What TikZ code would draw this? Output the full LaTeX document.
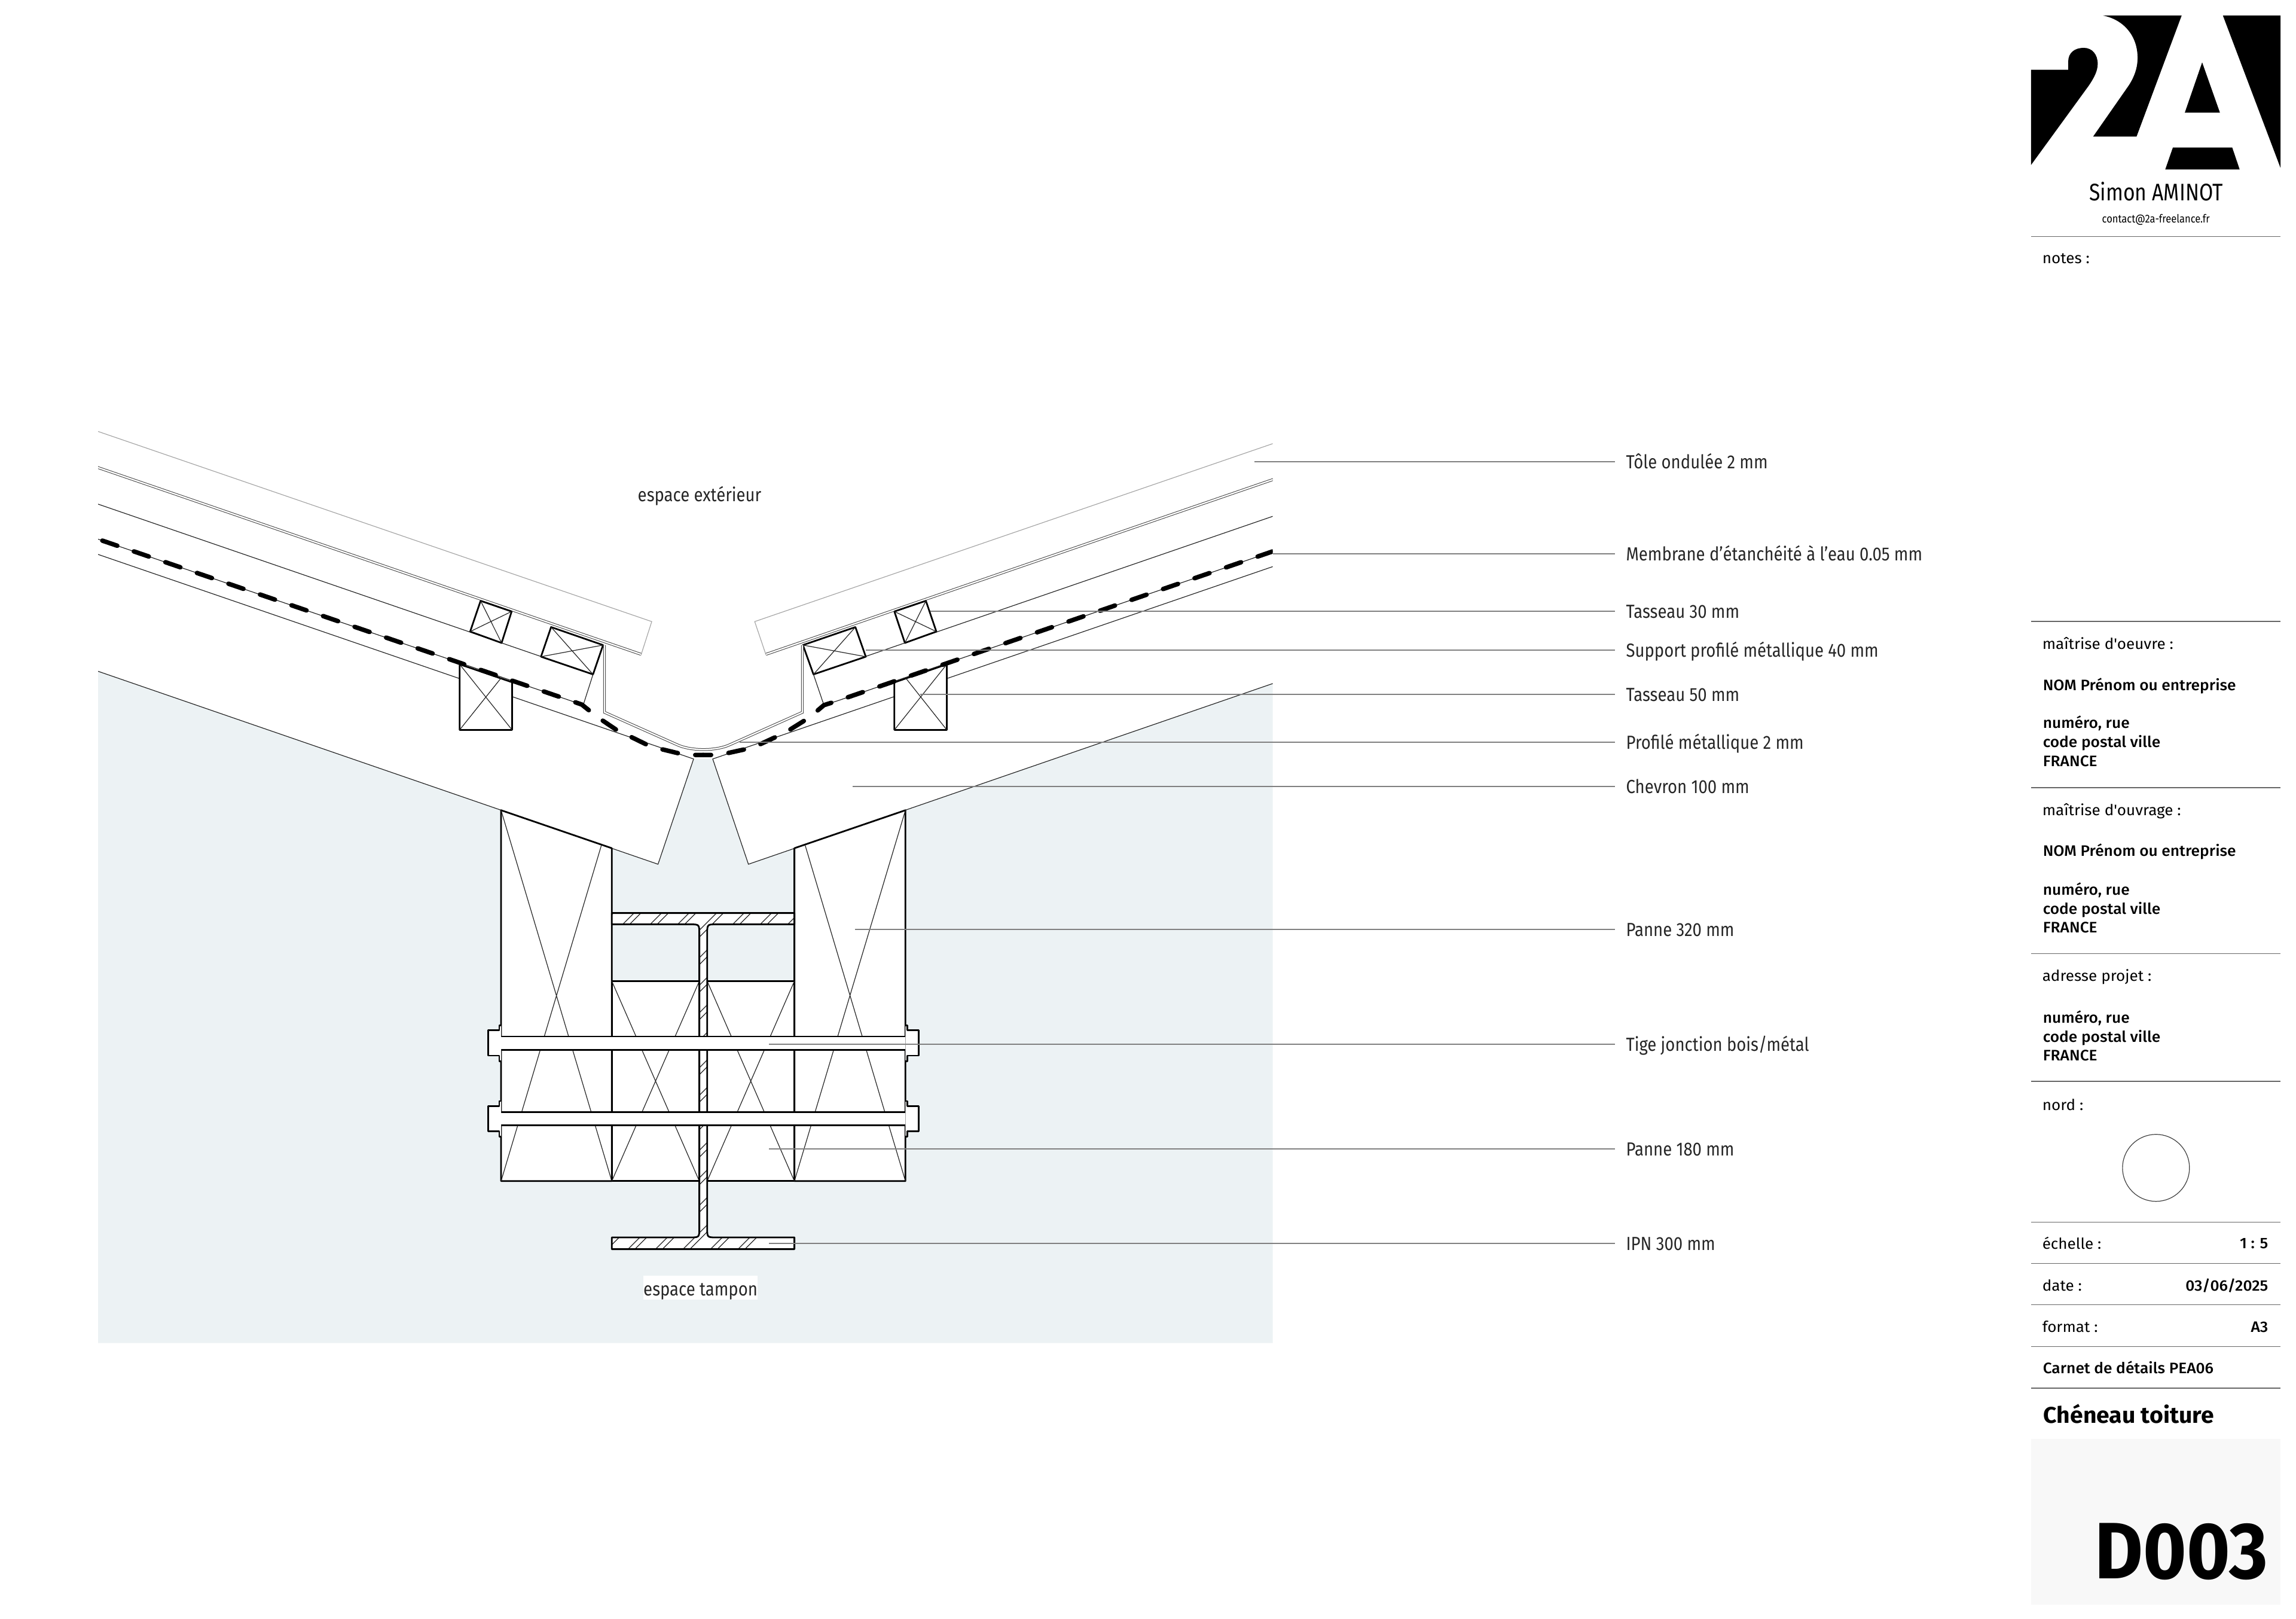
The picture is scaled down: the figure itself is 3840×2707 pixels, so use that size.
\documentclass[tikz,border=0pt]{standalone}
\usepackage{fontspec}
\setmainfont{Fira Sans}[FakeStretch=0.87]
\newfontfamily\cartfont{Fira Sans}[FakeStretch=1.03]
\newfontfamily\cartgrasfont{Fira Sans Medium}[FakeStretch=1.04]
\newfontfamily\numfont{Fira Sans}[FakeStretch=0.93]
\newfontfamily\auteurfont{Fira Sans}[FakeStretch=0.84]
\definecolor{tampon}{HTML}{ECF2F4}
\definecolor{cadre}{HTML}{F8F8F8}
\newcommand\corpslabel{\fontsize{9}{11}\selectfont}
\newcommand\ipnpath{(1023.2,1526.6) -- (1328.6,1526.6) -- (1328.6,1545.5) -- (1198,1545.5)
  .. controls (1182.7,1545.5) .. (1182.7,1562) -- (1182.7,2053)
  .. controls (1182.7,2069) .. (1198,2069) -- (1328.6,2069) -- (1328.6,2088.6)
  -- (1023.2,2088.6) -- (1023.2,2069) -- (1154,2069)
  .. controls (1169.6,2069) .. (1169.6,2053) -- (1169.6,1562)
  .. controls (1169.6,1545.5) .. (1154,1545.5) -- (1023.2,1545.5) -- cycle}
\tikzset{
  fin/.style={draw=black!85,line width=0.012cm},
  bois/.style={draw=black,fill=white,line width=0.028cm,line join=round},
  tole/.style={draw=black!75,line width=0.01cm,double=white,double distance=0.024cm},
  bac/.style={draw=black!35,line width=0.012cm},
  membrane/.style={draw=black,line width=0.075cm,line cap=round,line join=round,
    dash pattern=on 0.265cm off 0.292cm,dash phase=0.1325cm},
  repere/.style={draw=black!50,line width=0.02cm},
  filet/.style={draw=black!60,line width=0.013cm},
  etiquette/.style={anchor=west,inner ysep=0pt,inner xsep=0.18cm,text height=0.23cm,
    text depth=0pt,font=\corpslabel,text=black!85},
  espace/.style={anchor=base,inner sep=0pt,font=\corpslabel,text=black!85},
  cartouche/.style={anchor=base west,inner sep=0pt,font=\fontsize{7.2}{9}\selectfont\cartfont},
  cartgras/.style={anchor=base west,inner sep=0pt,font=\fontsize{7.2}{9}\selectfont\cartgrasfont},
  cartdroit/.style={anchor=base east,inner sep=0pt,font=\fontsize{7.2}{9}\selectfont\cartgrasfont}
}
\begin{document}
\begin{tikzpicture}[x=0.01cm,y=-0.01cm]
  \useasboundingbox (0,0) rectangle (3840,2707);
  % fond
  \fill[tampon] (164,1122.4) -- (1100.5,1445) -- (1160,1269) -- (1192,1269) -- (1251.7,1445)
    -- (2128.6,1142.9) -- (2128.6,2245.5) -- (164,2245.5) -- cycle;
  \begin{scope}
    \clip (164,700) rectangle (2128.6,1500);
    % chevrons
    \draw[fin] (164,927) -- (1160,1269) -- (1100.5,1445) -- (164,1122.4);
    \draw[fin] (2128.6,947.4) -- (1192,1269) -- (1251.7,1445) -- (2128.6,1142.9);
    % tole et support
    \draw[bac] (164,721.4) -- (1090,1039.3) -- (1072,1095.4);
    \draw[bac] (2128.6,741.8) -- (1262.2,1039.3) -- (1281.2,1095.4);
    \draw[tole] (150,777) -- (1072,1094);
    \draw[tole] (2140,798) -- (1281.2,1094);
    \draw[fin] (164,842.9) -- (991.8,1127.6) -- (976,1177);
    \draw[fin] (2128.6,863.3) -- (1360.5,1127.6) -- (1377.3,1177);
    % tasseaux
    \draw[bois] (803.8,1004.6) -- (855.7,1022.4) -- (838.9,1075) -- (786.3,1056) -- cycle;
    \draw[fin] (803.8,1004.6) -- (838.9,1075) (855.7,1022.4) -- (786.3,1056);
    \draw[bois] (921.7,1048.5) -- (1008.6,1078.6) -- (991.8,1127.6) -- (904.8,1098) -- cycle;
    \draw[fin] (921.7,1048.5) -- (991.8,1127.6) (1008.6,1078.6) -- (904.8,1098);
    \draw[bois] (1548.5,1004.6) -- (1566,1056) -- (1513.4,1075) -- (1495.8,1022.4) -- cycle;
    \draw[fin] (1548.5,1004.6) -- (1513.4,1075) (1566,1056) -- (1495.8,1022.4);
    \draw[bois] (1430.6,1048.5) -- (1448,1098) -- (1360.5,1127.6) -- (1342.9,1078.6) -- cycle;
    \draw[fin] (1430.6,1048.5) -- (1360.5,1127.6) (1448,1098) -- (1342.9,1078.6);
    \draw[bois] (768.7,1110.7) -- (856.4,1140.7) -- (856.4,1220.4) -- (768.7,1220.4) -- cycle;
    \draw[fin] (768.7,1110.7) -- (856.4,1220.4) (768.7,1220.4) -- (838,1133.7);
    \draw[bois] (1583.5,1110.7) -- (1495.8,1141) -- (1495.8,1220.4) -- (1583.5,1220.4) -- cycle;
    \draw[fin] (1583.5,1110.7) -- (1495.8,1220.4) (1583.5,1220.4) -- (1514.8,1133.7);
    % profile
    \draw[tole] (1011,1078.6) -- (1011,1191) -- (1132,1245)
      .. controls (1155,1256) and (1198,1256) .. (1221,1245) -- (1342,1191) -- (1342,1078.6);
    % membrane
    \draw[fin] (164,901.5) -- (973,1178) -- (986.7,1189);
    \draw[fin] (2128.6,922) -- (1403,1171) -- (1378,1179) -- (1365,1190);
    \draw[membrane] (1176,1262.3) -- (1160,1262.3) -- (1136.7,1260) -- (1106.7,1252.7) -- (1083,1245.7)
      -- (1055,1232) -- (1033,1221.7) -- (1006.7,1204) -- (986.7,1189) -- (973,1178) -- (950,1170) -- (150,896.7);
    \draw[membrane] (1176,1262.3) -- (1191.7,1262.3) -- (1216.7,1259.3) -- (1246.7,1252.7) -- (1270,1245)
      -- (1298,1232) -- (1320,1220.7) -- (1346.7,1204) -- (1365,1190) -- (1378,1179) -- (1403,1171) -- (2140,918);
  \end{scope}
  % pannes
  \draw[bois] (838,1354.7) -- (1023.2,1418.2) -- (1023.2,1974.8) -- (838,1974.8) -- cycle;
  \draw[fin] (838,1354.7) -- (1023.2,1974.8) (838,1974.8) -- (1006,1412.7);
  \draw[bois] (1514.3,1354.7) -- (1328.6,1418.2) -- (1328.6,1974.8) -- (1514.3,1974.8) -- cycle;
  \draw[fin] (1514.3,1354.7) -- (1328.6,1974.8) (1514.3,1974.8) -- (1346.4,1412.7);
  \foreach \xa/\xb in {1023.2/1169.6,1182.7/1328.6} {
    \draw[bois] (\xa,1640.4) rectangle (\xb,1974.8);
    \draw[fin] (\xa,1640.4) -- (\xb,1974.8) (\xb,1640.4) -- (\xa,1974.8);
  }
  % IPN
  \fill[white] \ipnpath;
  \begin{scope}
    \clip \ipnpath;
    \foreach \k in {-2,...,16} {
      \pgfmathsetmacro\ca{2587+46*\k}
      \pgfmathsetmacro\cb{\ca+11.5}
      \draw[fin] (1000,{\ca-1000}) -- (1350,{\ca-1350});
      \draw[fin] (1000,{\cb-1000}) -- (1350,{\cb-1350});
    }
  \end{scope}
  \draw[bois,fill=none] \ipnpath;
  % tiges
  \foreach \d in {0,126.3} {
    \begin{scope}[shift={(0,\d)}]
      \fill[white] (838,1733) rectangle (1514.3,1755.3);
      \draw[bois,fill=none] (838,1733) -- (1514.3,1733) (838,1755.3) -- (1514.3,1755.3);
      \draw[bois] (838,1714.6) -- (834.9,1714.6) -- (834.9,1722.8) -- (816.1,1722.8)
        -- (816.1,1765) -- (834.9,1765) -- (834.9,1774.3) -- (838,1774.3);
      \draw[bois] (1514.3,1714.6) -- (1517.4,1714.6) -- (1517.4,1722.8) -- (1536.8,1722.8)
        -- (1536.8,1765) -- (1517.4,1765) -- (1517.4,1774.3) -- (1514.3,1774.3);
    \end{scope}
  }
  % espaces
  \node[espace] (exterieur) at (1170,838.8) {espace extérieur};
  \node[espace,fill=white,minimum width=1.913cm,text height=0.327cm,text depth=0.073cm] (tampon) at (1171.6,2166) {espace tampon};
  % reperes
  \foreach \nom/\ax/\ay/\texte in {
    tole/2098.4/772.2/{Tôle ondulée 2 mm},
    membrane/2128.6/926/{Membrane d'étanchéité à l'eau 0.05 mm},
    tasa/1555.5/1022/{Tasseau 30 mm},
    support/1448/1086.5/{Support profilé métallique 40 mm},
    tasb/1539.3/1161/{Tasseau 50 mm},
    profil/1236.7/1240.8/{Profilé métallique 2 mm},
    chevron/1425.7/1315/{Chevron 100 mm},
    pannea/1429.6/1553.7/{Panne 320 mm},
    tige/1286/1745.5/{Tige jonction bois/métal},
    panneb/1286/1921/{Panne 180 mm},
    ipn/1286/2079.4/{IPN 300 mm}} {
    \node[etiquette] (lab\nom) at (2700.8,\ay) {\texte};
    \coordinate (anc\nom) at (\ax,\ay);
    \draw[repere] (anc\nom) -- (lab\nom.west);
  }
  % logo
  \fill[black] (3396.7,116.7) -- (3459,116.7) -- (3459,103) .. controls (3459,88) and (3470,80) .. (3485,80)
    .. controls (3499,80) and (3508.3,91) .. (3508.3,106.7) .. controls (3508.3,118) and (3503,129) .. (3493.3,143.3)
    -- (3396.7,276) -- cycle;
  \fill[black] (3517.3,26) -- (3648.7,26) -- (3573.3,228.3) -- (3500.7,228.3) -- (3560,143.3)
    .. controls (3570,128) and (3575,113) .. (3575,96.7) .. controls (3575,60) and (3552,33) .. (3517.3,26) -- cycle;
  \fill[black] (3717.7,26) -- (3814,26) -- (3814,280.7) -- cycle;
  \fill[black] (3683,104.3) -- (3712.7,188.3) -- (3654,188.3) -- cycle;
  \fill[black] (3634,246.7) -- (3733.3,246.7) -- (3745.7,283.3) -- (3621.3,283.3) -- cycle;
  \node[anchor=base,inner sep=0pt,font=\fontsize{11.4}{13}\selectfont\auteurfont] (auteur) at (3606,336) {Simon AMINOT};
  \node[anchor=base,inner sep=0pt,font=\fontsize{5.4}{7}\selectfont] (contact) at (3605.7,372.7) {contact@2a-freelance.fr};
  % cartouche
  \foreach \y in {395.7,1039,1317,1594.5,1808,2043.4,2112.8,2181.7,2251.6,2321}
    \draw[filet] (3396.7,\y) -- (3814,\y);
  \foreach \nom/\y/\texte in {notes/440.7/{notes :},oeuvre/1085/{maîtrise d'oeuvre :},ouvrage/1363/{maîtrise d'ouvrage :},
    adresse/1640.6/{adresse projet :},nord/1856/{nord :},echelle/2088.8/{échelle :},date/2158/{date :},format/2227/{format :}}
    \node[cartouche] (\nom) at (3415,\y) {\texte};
  \foreach \nom/\y/\texte in {noma/1154/{NOM Prénom ou entreprise},ruea/1217.5/{numéro, rue},codea/1249.6/{code postal ville},paysa/1281.7/{FRANCE},
    nomb/1431.7/{NOM Prénom ou entreprise},rueb/1496/{numéro, rue},codeb/1528/{code postal ville},paysb/1559/{FRANCE},
    ruec/1710/{numéro, rue},codec/1742/{code postal ville},paysc/1773.4/{FRANCE},carnet/2296.5/{Carnet de détails PEA06}}
    \node[cartgras] (\nom) at (3416,\y) {\texte};
  \node[cartdroit] (valechelle) at (3794,2087.7) {1 : 5};
  \node[cartdroit] (valdate) at (3794,2158) {03/06/2025};
  \node[cartdroit] (valformat) at (3794,2227) {A3};
  \draw[draw=black!75,line width=0.012cm] (3605.8,1952.7) circle (56);
  \node[cartgras,font=\fontsize{10.8}{13}\selectfont\cartfont\bfseries] (titre) at (3417,2379) {Chéneau toiture};
  \fill[cadre] (3396.7,2405.7) rectangle (3814,2682.8);
  \node[anchor=base east,inner sep=0pt,font=\fontsize{38}{40}\selectfont\numfont\bfseries] (numero) at (3794,2639.6) {D003};
\end{tikzpicture}
\end{document}
